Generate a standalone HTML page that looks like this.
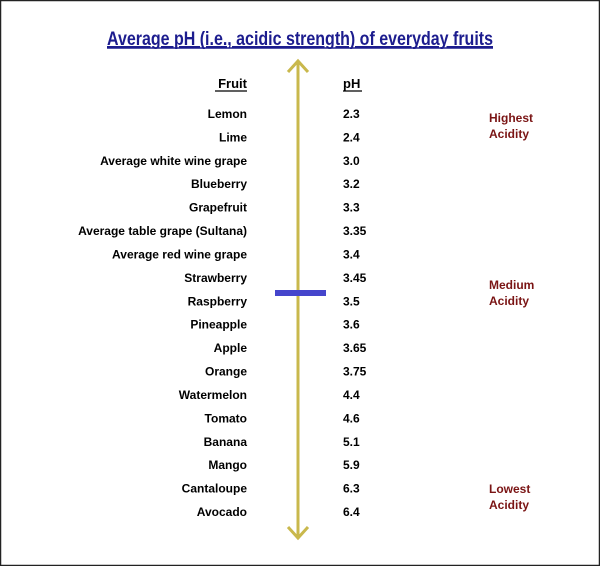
<!DOCTYPE html>
<html><head><meta charset="utf-8"><style>
html,body{margin:0;padding:0;background:#fff;}
svg{display:block;font-family:"Liberation Sans",Arial,sans-serif;}
</style></head><body>
<svg id="chart" width="600" height="566" viewBox="0 0 600 566">
  <rect x="0.5" y="0.5" width="599" height="565" fill="#fff" stroke="#222" stroke-width="1.5"/>
  <text x="300" y="45" text-anchor="middle" font-size="19" font-weight="bold" fill="#1c1c8e" textLength="386" lengthAdjust="spacingAndGlyphs" text-decoration="underline">Average pH (i.e., acidic strength) of everyday fruits</text>
  <line x1="107" y1="48" x2="493" y2="48" stroke="#1c1c8e" stroke-width="1.5"/>
  <text x="247" y="88" text-anchor="end" font-size="13" font-weight="bold" fill="#000">Fruit</text>
  <line x1="215" y1="91" x2="247" y2="91" stroke="#000" stroke-width="1.2"/>
  <text x="343" y="88" font-size="13" font-weight="bold" fill="#000">pH</text>
  <line x1="343" y1="91" x2="362" y2="91" stroke="#000" stroke-width="1.2"/>
  <g>
    <line x1="298" y1="62" x2="298" y2="536" stroke="#c9b84c" stroke-width="3"/>
    <polyline points="288,72 298,61 308,72" fill="none" stroke="#c9b84c" stroke-width="3"/>
    <polyline points="288,527 298,538 308,527" fill="none" stroke="#c9b84c" stroke-width="3"/>
  </g>
  <rect x="275" y="290" width="51" height="6" fill="#4545cc"/>
  <g font-size="12" font-weight="bold" fill="#7a1414">
    <text x="489" y="122"><tspan x="489">Highest</tspan><tspan x="489" dy="16">Acidity</tspan></text>
    <text x="489" y="289"><tspan x="489">Medium</tspan><tspan x="489" dy="16">Acidity</tspan></text>
    <text x="489" y="493"><tspan x="489">Lowest</tspan><tspan x="489" dy="16">Acidity</tspan></text>
  </g>
  <g id="rows"></g>
</svg>
<script>
const fruits = ["Lemon","Lime","Average white wine grape","Blueberry","Grapefruit","Average table grape (Sultana)","Average red wine grape","Strawberry","Raspberry","Pineapple","Apple","Orange","Watermelon","Tomato","Banana","Mango","Cantaloupe","Avocado"];
const phValues = ["2.3","2.4","3.0","3.2","3.3","3.35","3.4","3.45","3.5","3.6","3.65","3.75","4.4","4.6","5.1","5.9","6.3","6.4"];
const firstY = 118, lastY = 516;
function rowY(i){ return firstY + (lastY - firstY) * i / (fruits.length - 1); }
const g = document.getElementById('rows');
const NS = 'http://www.w3.org/2000/svg';
fruits.forEach((f, i) => {
  const t = document.createElementNS(NS, 'text');
  t.setAttribute('x', 247); t.setAttribute('y', rowY(i));
  t.setAttribute('text-anchor', 'end'); t.setAttribute('font-size', '12'); t.setAttribute('font-weight', 'bold');
  
  
  t.textContent = f; g.appendChild(t);
  const v = document.createElementNS(NS, 'text');
  v.setAttribute('x', 343); v.setAttribute('y', rowY(i));
  v.setAttribute('font-size', '12'); v.setAttribute('font-weight', 'bold');
  
  
  v.textContent = phValues[i]; g.appendChild(v);
});
</script>
</body></html>
